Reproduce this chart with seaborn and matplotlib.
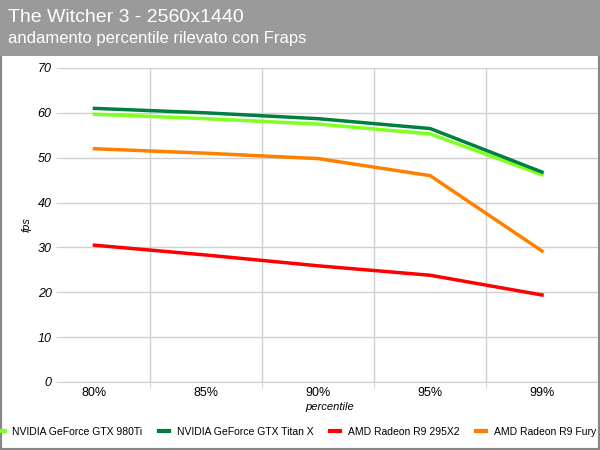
import matplotlib
matplotlib.use("Agg")
import matplotlib.pyplot as plt
import seaborn as sns
import pandas as pd
from matplotlib.patches import Rectangle
from matplotlib.lines import Line2D

plt.rcParams["font.family"] = "Liberation Sans"

categories = ["80%", "85%", "90%", "95%", "99%"]
gtx980ti = [59.7, 58.7, 57.5, 55.3, 46.2]
titanx = [61.0, 60.0, 58.7, 56.5, 46.8]
r295x2 = [30.5, 28.3, 25.9, 23.8, 19.4]
furyx = [52.0, 51.0, 49.8, 46.0, 29.2]
series_names = ["NVIDIA GeForce GTX 980Ti", "NVIDIA GeForce GTX Titan X",
                "AMD Radeon R9 295X2", "AMD Radeon R9 Fury X"]
colors = ["#80ff20", "#008040", "#ff0000", "#ff8000"]

rows = []
for name, vals in zip(series_names, [gtx980ti, titanx, r295x2, furyx]):
    for i, v in enumerate(vals):
        rows.append({"series": name, "x": i, "fps": v})
df = pd.DataFrame(rows)

fig = plt.figure(figsize=(6, 4.5), dpi=100)
fig.patch.set_facecolor("white")
fig.patches.append(Rectangle((0, 0), 1, 1, transform=fig.transFigure, fill=False,
                             edgecolor="#888888", linewidth=3))
fig.patches.append(Rectangle((0, 1 - 56/450), 1, 56/450, transform=fig.transFigure,
                             facecolor="#9a9a9a", edgecolor="none"))
fig.text(8/600, 1 - 17/450, "The Witcher 3 - 2560x1440", color="white", fontsize=14,
         va="center")
fig.text(8/600, 1 - 39/450, "andamento percentile rilevato con Fraps", color="white", fontsize=12,
         va="center")

ax = fig.add_axes([62/600, 68/450, 536/600, 314/450])
sns.lineplot(data=df, x="x", y="fps", hue="series", palette=colors, linewidth=2.5,
             ax=ax, legend=False)
ax.set_xlim(-0.29, 4.5)
ax.set_ylim(0, 70)
ax.set_yticks(range(0, 71, 10))
ax.set_xticks(range(5))
ax.set_xticklabels(categories, fontsize=9)
for t in ax.get_yticklabels():
    t.set_fontstyle("italic"); t.set_fontsize(9)
ax.set_xticks([0.5, 1.5, 2.5, 3.5], minor=True)
ax.grid(True, axis="y", color="#d0d0d0", linewidth=1)
ax.grid(True, axis="x", which="minor", color="#d0d0d0", linewidth=1)
ax.tick_params(axis="x", which="major", length=0)
ax.tick_params(axis="x", which="minor", length=4, color="#d0d0d0")
ax.tick_params(axis="y", length=4, color="#d0d0d0")
ax.set_axisbelow(True)
for s in ["top", "right", "left"]:
    ax.spines[s].set_visible(False)
ax.spines["bottom"].set_color("#d0d0d0")
ax.set_xlabel("percentile", fontsize=8, fontstyle="italic", labelpad=2)
ax.set_ylabel("fps", fontsize=8, fontstyle="italic")

handles = [Line2D([0], [0], color=c, linewidth=3) for c in colors]
fig.legend(handles, series_names, loc="center", bbox_to_anchor=(0.5, 1 - 432/450),
           ncol=4, frameon=False, fontsize=7.5, handlelength=1.0, columnspacing=1.6,
           handletextpad=0.7)
fig.savefig("out.png", dpi=100)
